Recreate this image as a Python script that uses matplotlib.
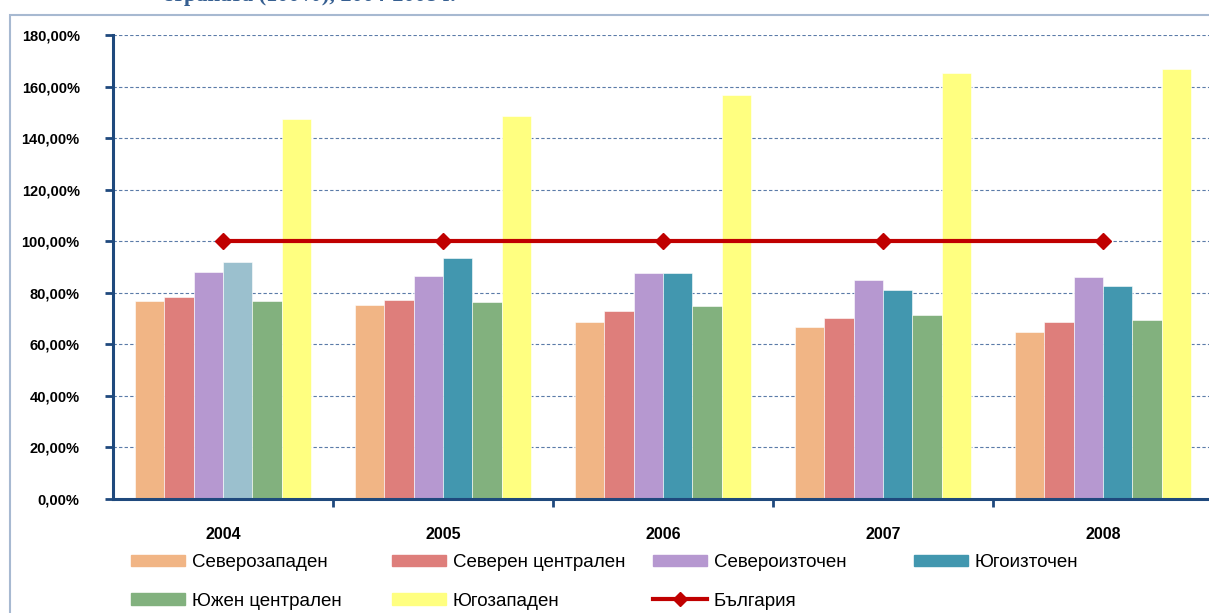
import matplotlib.pyplot as plt
import matplotlib.patches as mpatches
from matplotlib.lines import Line2D
import numpy as np

plt.rcParams['font.family'] = ['Liberation Sans', 'DejaVu Sans']

# данни
years = ['2004', '2005', '2006', '2007', '2008']
regions = ['Северозападен', 'Северен централен', 'Североизточен',
           'Югоизточен', 'Южен централен', 'Югозападен']
nw = [76.8, 75.3, 68.7, 66.7, 64.8]
nc = [78.4, 77.2, 72.9, 70.2, 68.5]
ne = [88.0, 86.5, 87.7, 85.1, 86.1]
se = [91.9, 93.5, 87.7, 81.1, 82.5]
sc = [76.8, 76.4, 74.9, 71.4, 69.4]
sw = [147.4, 148.6, 156.7, 165.2, 166.8]
bg = [100, 100, 100, 100, 100]

series = [nw, nc, ne, se, sc, sw]
colors = ['#F1B585', '#DE7E7B', '#B698D0', '#4297AF', '#82B17E', '#FFFF80']
se_first = '#9BC0CE'  # 2004 bar is lighter

fig = plt.figure(figsize=(12.09, 6.13), dpi=100)
ax = fig.add_axes([113/1209, 114/613, 1100/1209, 464/613])

x = np.arange(len(years))
w = 0.134
for i, (vals, c) in enumerate(zip(series, colors)):
    cols = [c]*len(years)
    if i == 3:
        cols[0] = se_first
    ax.bar(x + (i - 2.5)*w, vals, w, color=cols, edgecolor='white', linewidth=0.4, zorder=2)

ax.plot(x, bg, color='#C00000', lw=3, marker='D', markersize=8, zorder=3)

ax.set_xlim(-0.5, 4.5)
ax.set_ylim(0, 180)
yt = np.arange(0, 181, 20)
ax.set_yticks(yt)
ax.set_yticklabels(['%d,00%%' % v for v in yt], fontweight='bold', fontsize=10.5)
ax.yaxis.grid(True, linestyle=(0, (3, 2)), color='#5B7BA8', lw=0.8, zorder=0)

ax.set_xticks(np.arange(0.5, 4.6, 1))
ax.set_xticklabels([])
ax.set_xticks(x, minor=True)
ax.set_xticklabels(years, minor=True, fontweight='bold', fontsize=11.5)
ax.tick_params(axis='x', which='minor', length=0, pad=20)
ax.tick_params(axis='x', which='major', length=6, width=2, color='#1F497D', direction='out')
ax.tick_params(axis='y', length=6, width=2, color='#1F497D', pad=18)

for s in ['top', 'right']:
    ax.spines[s].set_visible(False)
for s in ['left', 'bottom']:
    ax.spines[s].set_color('#1F497D')
    ax.spines[s].set_linewidth(2.2)

# легенда - 4 колони по 2 реда
handles = [mpatches.Patch(color=c) for c in colors]
line_h = Line2D([], [], color='#C00000', lw=3, marker='D', markersize=7)
cols_legend = [
    ([handles[0], handles[4]], [regions[0], regions[4]]),
    ([handles[1], handles[5]], [regions[1], regions[5]]),
    ([handles[2], line_h], [regions[2], 'България']),
    ([handles[3]], [regions[3]]),
]
for k, (h, l) in enumerate(cols_legend):
    lg = fig.legend(h, l, loc='upper left',
                    bbox_to_anchor=((131 + 261*k)/1209, 1 - 554/613),
                    frameon=False, fontsize=13.5, handlelength=2.9,
                    handleheight=0.55, labelspacing=1.15, handletextpad=0.35,
                    borderaxespad=0, borderpad=0)

# рамка на диаграмата
fig.patches.append(mpatches.Rectangle((10/1209, -0.1), 1.2, 1 - 15/613 + 0.1,
                                      transform=fig.transFigure, fill=False,
                                      edgecolor='#A7B9D1', lw=1.5))
fig.text(163/1209, 1 + 4/613, 'страната (100%), 2004-2008 г.', color='#365F91',
         fontsize=16, fontweight='bold', family=['Liberation Serif'], va='center')

fig.savefig('out.png', dpi=100)
